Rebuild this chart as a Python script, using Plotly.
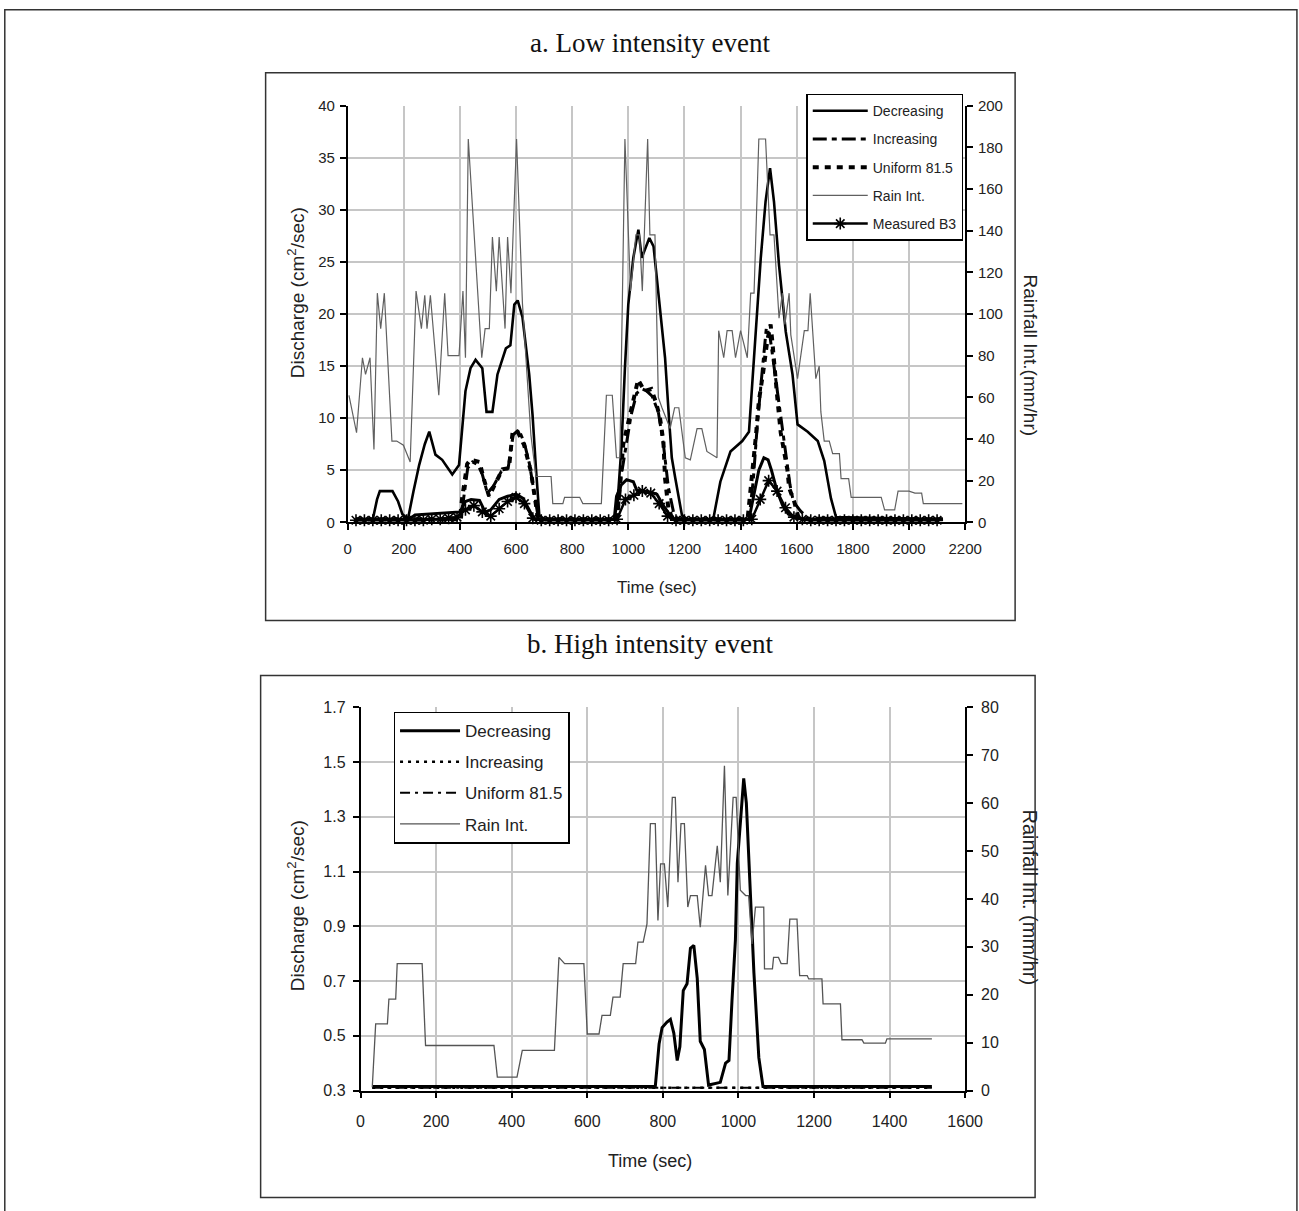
import plotly.graph_objects as go

W, H = 1320, 1230
# calibration of the photographed page against the reference pixel grid
SX, OX = 0.984, 3.2
SY, OY = 0.9855, 8.3
SANS = "Arial, Liberation Sans, sans-serif"
SERIF = "Times New Roman, Liberation Serif, serif"
GRID = "#c6c6c6"

# ---------------- Chart a: Low intensity event ----------------
a_dec_t = [30, 90, 105, 115, 160, 180, 195, 215, 235, 255, 275, 291, 313, 337, 373, 397, 420, 438, 456, 480,
           495, 516, 534, 564, 580, 594, 606, 623, 647, 659, 671, 683, 700, 950, 962, 976, 988, 1000, 1018, 1036,
           1048, 1060, 1075, 1090, 1107, 1131, 1145, 1155, 1167, 1191, 1210, 1290, 1304, 1328, 1364, 1406, 1430,
           1448, 1472, 1489, 1505, 1519, 1537, 1561, 1585, 1603, 1639, 1675, 1698, 1722, 1740, 2120]
a_dec_v = [0.3, 0.3, 2.2, 3.0, 3.0, 2.0, 0.8, 0.3, 3.0, 5.5, 7.5, 8.7, 6.5, 6.0, 4.6, 5.5, 12.6, 14.8, 15.6, 14.8,
           10.6, 10.6, 14.2, 16.7, 17.0, 20.9, 21.3, 19.7, 14.2, 10.3, 5.2, 0.7, 0.3, 0.3, 2.0, 7.4, 14.8, 20.9, 25.4, 28.1,
           25.4, 26.3, 27.3, 26.5, 22.2, 15.8, 10.0, 6.2, 4.3, 0.7, 0.3, 0.3, 0.5, 3.9, 6.8, 7.8, 8.7,
           15.8, 25.4, 30.8, 34.0, 30.8, 24.7, 18.3, 14.2, 9.4, 8.7, 7.8, 5.9, 2.3, 0.5, 0.3]

a_inc_t = [30, 405, 412, 428, 445, 465, 480, 498, 520, 548, 572, 590, 610, 630, 648, 662, 676, 690, 962, 975,
           992, 1010, 1030, 1050, 1066, 1085, 1107, 1125, 1143, 1161, 1175, 1430, 1445, 1460, 1477, 1492, 1505,
           1525, 1537, 1561, 1576, 1588, 1613, 1640, 2120]
a_inc_v = [0.3, 0.3, 2.0, 5.2, 5.8, 5.5, 4.6, 2.8, 3.5, 4.9, 5.2, 8.4, 8.9, 7.6, 5.6, 3.2, 1.0, 0.3, 0.3, 4.5,
           7.5, 10.3, 12.4, 12.8, 12.6, 12.1, 10.6, 7.5, 3.3, 1.0, 0.3, 0.3, 4.0, 9.5, 14.5, 18.7, 17.8,
           13.8, 11.6, 7.1, 3.6, 2.0, 1.1, 0.4, 0.3]

a_uni_t = [30, 400, 408, 426, 438, 470, 486, 504, 528, 552, 575, 588, 606, 629, 653, 665, 677, 690, 960, 982,
           1006, 1020, 1035, 1058, 1082, 1100, 1113, 1125, 1131, 1143, 1158, 1425, 1436, 1448, 1455, 1465, 1472,
           1481, 1495, 1507, 1513, 1519, 1531, 1543, 1553, 1567, 1573, 1591, 1605, 1615, 2120]
a_uni_v = [0.3, 0.3, 2.3, 5.6, 6.0, 5.8, 4.1, 2.5, 3.8, 5.1, 5.2, 8.7, 8.7, 7.4, 4.9, 2.8, 0.6, 0.3, 0.3, 7.5,
           10.3, 12.0, 13.7, 12.6, 12.8, 11.4, 10.0, 7.8, 4.2, 1.3, 0.3, 0.3, 3.0, 6.5, 8.4, 11.6, 13.2,
           14.5, 17.4, 19.0, 17.4, 15.3, 11.9, 8.6, 7.1, 5.0, 3.3, 2.0, 0.6, 0.3, 0.3]

# additional thick curve near the base (no legend entry)
a_low_t = [30, 220, 240, 300, 360, 400, 420, 440, 470, 490, 510, 540, 570, 600, 625, 650, 665, 950, 958, 975,
           994, 1018, 1030, 1055, 1080, 1102, 1125, 1149, 1165, 1430, 1450, 1465, 1483, 1498, 1510, 1530, 1550,
           1570, 1600, 1640, 2120]
a_low_v = [0.3, 0.3, 0.7, 0.8, 0.9, 1.0, 2.0, 2.2, 2.1, 1.0, 1.2, 2.2, 2.5, 2.7, 2.3, 1.0, 0.3, 0.3, 2.5, 3.6,
           4.1, 3.9, 3.1, 3.0, 2.9, 2.7, 1.6, 0.7, 0.3, 0.3, 3.0, 5.0, 6.2, 6.0, 5.0, 3.0, 1.6,
           0.8, 0.4, 0.3, 0.3]

a_meas_t = list(range(30, 2101, 30))
a_meas_v = [0.2, 0.2, 0.2, 0.2, 0.2, 0.2, 0.2, 0.2, 0.2, 0.3,
            0.3, 0.4, 0.5, 1.2, 1.6, 1.0, 0.6, 1.3, 2.0, 2.4,
            1.8, 0.4, 0.2, 0.2, 0.2, 0.2, 0.2, 0.2, 0.2, 0.2,
            0.2, 0.3, 2.2, 2.6, 3.0, 2.8, 1.8, 0.6, 0.2, 0.2,
            0.2, 0.2, 0.2, 0.2, 0.2, 0.2, 0.2, 0.3, 2.2, 4.0,
            3.0, 1.4, 0.5, 0.3, 0.2, 0.2, 0.2, 0.2, 0.2, 0.2,
            0.2, 0.2, 0.2, 0.2, 0.2, 0.2, 0.2, 0.2, 0.2, 0.2]

a_rain_t = [5, 32, 53, 64, 80, 94, 106, 118, 131, 158, 175, 185, 199, 223, 244, 263, 275, 283, 295, 325,
            346, 358, 397, 411, 420, 430, 478, 490, 505, 516, 530, 540, 561, 570, 582, 602, 623, 653, 671, 725,
            731, 767, 773, 827, 838, 904, 922, 943, 958, 970, 988, 1008, 1027, 1040, 1050, 1069, 1077, 1095,
            1107, 1120, 1149, 1165, 1180, 1203, 1221, 1245, 1262, 1280, 1316, 1322, 1340, 1352, 1370, 1382, 1400,
            1424, 1436, 1448, 1465, 1489, 1505, 1519, 1537, 1549, 1558, 1573, 1579, 1603, 1627, 1640, 1648, 1668,
            1680, 1686, 1698, 1716, 1728, 1752, 1758, 1785, 1794, 1901, 1913, 1949, 1961, 2000, 2021, 2045, 2051, 2190]
a_rain_v = [61, 43, 79, 71, 79, 35, 110, 93, 110, 39, 39, 38, 37, 29, 111, 93, 109, 93, 109, 61,
            110, 80, 80, 111, 79, 184, 79, 93, 93, 137, 111, 137, 93, 137, 110, 184, 105, 42, 22, 22,
            9, 9, 12, 12, 9, 9, 61, 61, 31, 31, 184, 111, 138, 138, 111, 184, 138, 138,
            60, 55, 45, 55, 55, 31, 30, 45, 45, 34, 31, 92, 79, 92, 92, 79, 92,
            79, 110, 110, 184, 184, 138, 138, 98, 110, 95, 110, 90, 69, 92, 92, 110, 69,
            75, 53, 39, 39, 33, 33, 21, 21, 12, 12, 6, 6, 15, 15, 14, 14, 9, 9]

# ---------------- Chart b: High intensity event ----------------
b_dec_t = [31, 780, 790, 798, 811, 820, 829, 838, 845, 854, 864, 873, 882, 891, 899, 910, 921, 952, 966, 975,
           983, 992, 997, 1005, 1014, 1021, 1032, 1041, 1054, 1065, 1512]
b_dec_v = [0.315, 0.315, 0.47, 0.53, 0.55, 0.56, 0.51, 0.41, 0.46, 0.665, 0.69, 0.82, 0.83, 0.71, 0.48, 0.45, 0.32,
           0.33, 0.40, 0.41, 0.63, 0.85, 1.13, 1.27, 1.44, 1.35, 1.0, 0.73, 0.42, 0.315, 0.315]
b_inc_t = [31, 400, 800, 1200, 1512]
b_inc_v = [0.31, 0.31, 0.31, 0.31, 0.31]
b_uni_t = [31, 400, 800, 1200, 1512]
b_uni_v = [0.31, 0.31, 0.31, 0.31, 0.31]

b_rain_t = [31, 40, 71, 75, 93, 97, 163, 172, 353, 362, 414, 428, 513, 525, 540, 591, 600, 631, 639, 661,
            668, 687, 695, 728, 734, 748, 758, 767, 780, 787, 794, 804, 813, 825, 833, 840, 848, 857, 866, 873,
            891, 899, 913, 921, 930, 944, 952, 963, 972, 986, 994, 1005, 1019, 1027, 1036, 1045, 1067, 1069,
            1090, 1093, 1106, 1113, 1129, 1136, 1155, 1162, 1182, 1186, 1221, 1224, 1270, 1274, 1327, 1332,
            1389, 1393, 1512]
b_rain_v = [0.7, 13.9, 13.9, 19.1, 19.1, 26.5, 26.5, 9.4, 9.4, 2.8, 2.8, 8.4, 8.4, 27.8, 26.5, 26.5, 11.8, 11.8, 15.7, 15.7,
            19.5, 19.5, 26.5, 26.5, 31.0, 31.0, 34.8, 55.7, 55.7, 35.5, 47.3, 47.3, 38.3, 61.2, 61.2, 43.5, 55.7, 55.7, 38.3, 40.7,
            40.7, 34.1, 47.0, 40.7, 40.7, 51.1, 43.5, 67.8, 40.7, 61.2, 61.2, 41.8, 40.7, 40.7, 30.6, 38.3, 38.3, 25.4,
            25.4, 27.8, 27.8, 26.5, 26.5, 35.8, 35.8, 24.0, 24.0, 23.3, 23.3, 18.1, 18.1, 10.6, 10.6, 9.9,
            9.9, 10.8, 10.8]


def px(x):
    return ((x - OX) / SX) / W


def py(y):
    return 1 - ((y - OY) / SY) / H


fig = go.Figure()

# ---- chart a traces
fig.add_trace(go.Scatter(x=a_dec_t, y=a_dec_v, name="Decreasing", mode="lines",
                         line=dict(color="black", width=2.6), xaxis="x", yaxis="y",
                         legend="legend", legendgroup="a1"))
fig.add_trace(go.Scatter(x=a_inc_t, y=a_inc_v, name="Increasing", mode="lines",
                         line=dict(color="black", width=3, dash="14px,5px,5px,5px"), xaxis="x", yaxis="y",
                         legend="legend", legendgroup="a2"))
fig.add_trace(go.Scatter(x=a_uni_t, y=a_uni_v, name="Uniform 81.5", mode="lines",
                         line=dict(color="black", width=4, dash="6px,6px"), xaxis="x", yaxis="y",
                         legend="legend", legendgroup="a3"))
fig.add_trace(go.Scatter(x=a_low_t, y=a_low_v, name="B3 line", mode="lines", showlegend=False,
                         line=dict(color="black", width=3), xaxis="x", yaxis="y"))
fig.add_trace(go.Scatter(x=a_rain_t, y=a_rain_v, name="Rain Int.", mode="lines",
                         line=dict(color="#606060", width=1.2), xaxis="x", yaxis="y2",
                         legend="legend", legendgroup="a4"))
fig.add_trace(go.Scatter(x=a_meas_t, y=a_meas_v, name="Measured B3", mode="lines+markers",
                         line=dict(color="black", width=2.5), cliponaxis=False,
                         marker=dict(symbol="asterisk-open", size=10, color="black",
                                     line=dict(color="black", width=1.6)),
                         xaxis="x", yaxis="y", legend="legend", legendgroup="a5"))

# ---- chart b traces
fig.add_trace(go.Scatter(x=b_dec_t, y=b_dec_v, name="Decreasing", mode="lines",
                         line=dict(color="black", width=3), xaxis="x2", yaxis="y3",
                         legend="legend2", legendgroup="b1"))
fig.add_trace(go.Scatter(x=b_inc_t, y=b_inc_v, name="Increasing", mode="lines",
                         line=dict(color="black", width=2.5, dash="3px,5px"), xaxis="x2", yaxis="y3",
                         legend="legend2", legendgroup="b2"))
fig.add_trace(go.Scatter(x=b_uni_t, y=b_uni_v, name="Uniform 81.5", mode="lines",
                         line=dict(color="black", width=2, dash="10px,5px,3px,5px"), xaxis="x2", yaxis="y3",
                         legend="legend2", legendgroup="b3"))
fig.add_trace(go.Scatter(x=b_rain_t, y=b_rain_v, name="Rain Int.", mode="lines",
                         line=dict(color="#555555", width=1.3), xaxis="x2", yaxis="y4",
                         legend="legend2", legendgroup="b4"))

axis_common = dict(showline=True, linecolor="black", linewidth=1.5, ticks="outside", ticklen=6,
                   tickcolor="black", tickwidth=1.5, zeroline=False)

fig.update_layout(
    width=W, height=H,
    margin=dict(l=0, r=0, t=0, b=0),
    paper_bgcolor="white", plot_bgcolor="white",
    font=dict(family=SANS, color="#222"),
    xaxis=dict(domain=[px(347), px(965)], anchor="y", range=[0, 2200], dtick=200, tick0=0,
               showgrid=True, gridcolor=GRID, gridwidth=1.5, ticklabelstandoff=6,
               tickfont=dict(size=15, family=SANS, color="#222"), **axis_common),
    yaxis=dict(domain=[py(521.7), py(105)], anchor="x", range=[0, 40], dtick=5, tick0=0,
               showgrid=True, gridcolor=GRID, gridwidth=1.5, ticklabelstandoff=2,
               tickfont=dict(size=15, family=SANS, color="#222"), **axis_common),
    yaxis2=dict(overlaying="y", side="right", anchor="x", range=[0, 200], dtick=20, tick0=0,
                showgrid=False, ticklabelstandoff=2,
                tickfont=dict(size=15, family=SANS, color="#222"), **axis_common),
    xaxis2=dict(domain=[px(360), px(965)], anchor="y3", range=[0, 1600], dtick=200, tick0=0,
                showgrid=True, gridcolor=GRID, gridwidth=1.5, ticklabelstandoff=9,
                tickfont=dict(size=16, family=SANS, color="#222"), **axis_common),
    yaxis3=dict(domain=[py(1090), py(706.7)], anchor="x2", range=[0.3, 1.7], dtick=0.2, tick0=0.3,
                tickformat=".1f", showgrid=True, gridcolor=GRID, gridwidth=1.5, ticklabelstandoff=4,
                tickfont=dict(size=16, family=SANS, color="#222"), **axis_common),
    yaxis4=dict(overlaying="y3", side="right", anchor="x2", range=[0, 80], dtick=10, tick0=0,
                showgrid=False, ticklabelstandoff=5,
                tickfont=dict(size=16, family=SANS, color="#222"), **axis_common),
    legend=dict(x=px(806), y=py(93), xanchor="left", yanchor="top", bgcolor="white",
                bordercolor="black", borderwidth=1.5, font=dict(size=14, family=SANS, color="#222"),
                itemwidth=55, tracegroupgap=7, traceorder="grouped"),
    legend2=dict(x=px(393), y=py(711), xanchor="left", yanchor="top", bgcolor="white",
                 bordercolor="black", borderwidth=1.5, font=dict(size=17, family=SANS, color="#222"),
                 itemwidth=60, tracegroupgap=6, traceorder="grouped"),
    showlegend=True,
)

shapes = [
    # outer frame (left, top, right edges; bottom runs off the page)
    dict(type="path", xref="paper", yref="paper",
         path="M %f,%f L %f,%f L %f,%f L %f,%f" % (0.8 / W, -0.05, 0.8 / W, 1 - 0.8 / H,
                                                    px(1297), 1 - 0.8 / H, px(1297), -0.05),
         line=dict(color="#333", width=1.5)),
    dict(type="rect", xref="paper", yref="paper", x0=px(265), x1=px(1015), y0=py(620), y1=py(72),
         line=dict(color="#333", width=1.5)),
    dict(type="rect", xref="paper", yref="paper", x0=px(260), x1=px(1035), y0=py(1197), y1=py(675),
         line=dict(color="#333", width=1.5)),
]
fig.update_layout(shapes=shapes)

ann = [
    dict(text="a. Low intensity event", x=px(650), y=py(42), font=dict(family=SERIF, size=27, color="#111")),
    dict(text="b. High intensity event", x=px(650), y=py(643), font=dict(family=SERIF, size=27, color="#111")),
    dict(text="Time (sec)", x=px(657), y=py(587), font=dict(family=SANS, size=17, color="#222")),
    dict(text="Time (sec)", x=px(650), y=py(1160), font=dict(family=SANS, size=18, color="#222")),
    dict(text="Discharge (cm<sup>2</sup>/sec)", x=px(295), y=py(292), textangle=-90,
         font=dict(family=SANS, size=19, color="#222")),
    dict(text="Rainfall Int.(mm/hr)", x=px(1030), y=py(355), textangle=90,
         font=dict(family=SANS, size=19, color="#222")),
    dict(text="Discharge (cm<sup>2</sup>/sec)", x=px(295), y=py(905), textangle=-90,
         font=dict(family=SANS, size=19, color="#222")),
    dict(text="Rainfall Int. (mm/hr)", x=px(1030), y=py(897), textangle=90,
         font=dict(family=SANS, size=20, color="#222")),
]
for a in ann:
    a.update(xref="paper", yref="paper", showarrow=False, xanchor="center", yanchor="middle")
fig.update_layout(annotations=ann)

fig.write_html("out.html", config={"displayModeBar": False},
               post_script="document.body.style.margin='0';document.documentElement.style.overflow='hidden';")
